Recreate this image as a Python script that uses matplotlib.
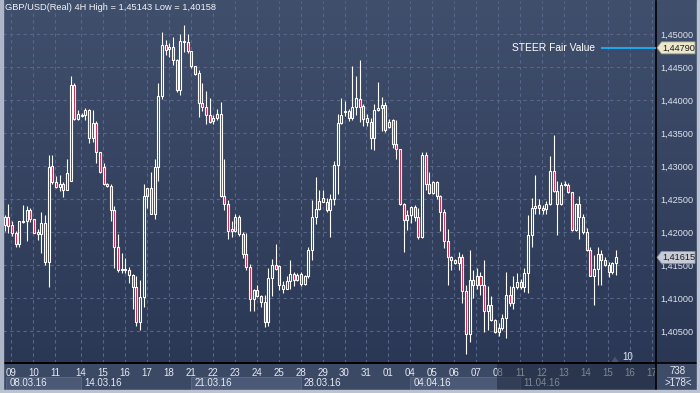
"""GBP/USD 4H candles with the STEER fair value level."""

import matplotlib

matplotlib.use("Agg")
import matplotlib.pyplot as plt
import matplotlib.transforms as mtransforms
import numpy as np
from matplotlib.patches import Polygon, Rectangle

OUT = "out.png"

# 4H candles, 08.03.16 .. 15.04.16
opens = [
    1.4211, 1.4223, 1.4210, 1.4199, 1.4182, 1.4215, 1.4216, 1.4234, 1.4220, 1.4197,
    1.4197, 1.4214, 1.4155, 1.4300, 1.4275, 1.4268, 1.4273, 1.4264, 1.4278, 1.4423,
    1.4371, 1.4375, 1.4377, 1.4385, 1.4342, 1.4365, 1.4321, 1.4298, 1.4273, 1.4270,
    1.4233, 1.4178, 1.4143, 1.4142, 1.4142, 1.4135, 1.4117, 1.4064, 1.4102, 1.4254,
    1.4267, 1.4228, 1.4298, 1.4406, 1.4484, 1.4477, 1.4480, 1.4460, 1.4415, 1.4488,
    1.4488, 1.4474, 1.4451, 1.4441, 1.4396, 1.4390, 1.4377, 1.4368, 1.4372, 1.4379,
    1.4254, 1.4242, 1.4204, 1.4202, 1.4223, 1.4197, 1.4167, 1.4147, 1.4098, 1.4112,
    1.4103, 1.4094, 1.4063, 1.4130, 1.4150, 1.4148, 1.4114, 1.4114, 1.4126, 1.4136,
    1.4128, 1.4136, 1.4121, 1.4133, 1.4173, 1.4222, 1.4235, 1.4251, 1.4246, 1.4234,
    1.4250, 1.4301, 1.4365, 1.4382, 1.4384, 1.4372, 1.4389, 1.4402, 1.4391, 1.4373,
    1.4367, 1.4342, 1.4385, 1.4388, 1.4393, 1.4359, 1.4369, 1.4333, 1.4326, 1.4242,
    1.4218, 1.4226, 1.4238, 1.4223, 1.4192, 1.4316, 1.4272, 1.4259, 1.4276, 1.4255,
    1.4230, 1.4187, 1.4157, 1.4157, 1.4153, 1.4162, 1.4110, 1.4045, 1.4127, 1.4119,
    1.4134, 1.4119, 1.4081, 1.4089, 1.4066, 1.4049, 1.4055, 1.4070, 1.4104, 1.4092,
    1.4117, 1.4124, 1.4117, 1.4138, 1.4195, 1.4236, 1.4241, 1.4236, 1.4235, 1.4243,
    1.4293, 1.4262, 1.4242, 1.4271, 1.4271, 1.4261, 1.4203, 1.4242, 1.4223, 1.4200,
    1.4172, 1.4134, 1.4144, 1.4167, 1.4157, 1.4150, 1.4139, 1.4153,
]
highs = [
    1.4225, 1.4243, 1.4217, 1.4201, 1.4217, 1.4241, 1.4239, 1.4236, 1.4220, 1.4205,
    1.4231, 1.4225, 1.4317, 1.4316, 1.4285, 1.4286, 1.4275, 1.4310, 1.4437, 1.4425,
    1.4385, 1.4380, 1.4388, 1.4386, 1.4385, 1.4368, 1.4321, 1.4305, 1.4274, 1.4272,
    1.4239, 1.4197, 1.4168, 1.4160, 1.4147, 1.4137, 1.4134, 1.4128, 1.4273, 1.4267,
    1.4291, 1.4311, 1.4425, 1.4503, 1.4491, 1.4487, 1.4496, 1.4462, 1.4500, 1.45143,
    1.4500, 1.4474, 1.4452, 1.4446, 1.4426, 1.4414, 1.4403, 1.4378, 1.4386, 1.4397,
    1.4311, 1.4249, 1.4217, 1.4227, 1.4225, 1.4200, 1.4198, 1.4152, 1.4114, 1.4120,
    1.4105, 1.4104, 1.4145, 1.4159, 1.4182, 1.4150, 1.4125, 1.4133, 1.4157, 1.4140,
    1.4138, 1.4139, 1.4135, 1.4178, 1.4249, 1.4284, 1.4263, 1.4263, 1.4251, 1.4257,
    1.4308, 1.4379, 1.4403, 1.4399, 1.4386, 1.4451, 1.4436, 1.4460, 1.4394, 1.4379,
    1.4372, 1.4394, 1.4427, 1.4405, 1.4397, 1.4371, 1.4371, 1.4369, 1.4326, 1.4244,
    1.4234, 1.4240, 1.4241, 1.4237, 1.4321, 1.4321, 1.4291, 1.4277, 1.4278, 1.4256,
    1.4235, 1.4205, 1.4163, 1.4159, 1.4170, 1.4166, 1.4119, 1.4172, 1.4143, 1.4145,
    1.4139, 1.4157, 1.4118, 1.4103, 1.4068, 1.4062, 1.4075, 1.4139, 1.4118, 1.4133,
    1.4138, 1.4129, 1.4145, 1.4225, 1.4252, 1.4287, 1.4250, 1.4241, 1.4247, 1.4315,
    1.4347, 1.4278, 1.4275, 1.4278, 1.4274, 1.4261, 1.4244, 1.4254, 1.4228, 1.4206,
    1.4177, 1.4165, 1.4177, 1.4173, 1.4162, 1.4155, 1.4155, 1.4172,
]
lows = [
    1.4202, 1.4198, 1.4194, 1.4177, 1.4177, 1.4214, 1.4186, 1.4215, 1.4198, 1.4188,
    1.4168, 1.4150, 1.4117, 1.4272, 1.4267, 1.4262, 1.4253, 1.4263, 1.4278, 1.4370,
    1.4369, 1.4374, 1.4370, 1.4335, 1.4336, 1.4305, 1.4289, 1.4271, 1.4268, 1.4216,
    1.4145, 1.4140, 1.4138, 1.4138, 1.4123, 1.4083, 1.4057, 1.4051, 1.4087, 1.4237,
    1.4228, 1.4219, 1.4278, 1.4402, 1.4468, 1.4465, 1.4453, 1.4412, 1.4408, 1.4473,
    1.4471, 1.4448, 1.4438, 1.4374, 1.4383, 1.4364, 1.4365, 1.4364, 1.4370, 1.4253,
    1.4234, 1.4189, 1.4192, 1.4200, 1.4194, 1.4161, 1.4142, 1.4081, 1.4080, 1.4102,
    1.4087, 1.4056, 1.4057, 1.4103, 1.4143, 1.4112, 1.4107, 1.4114, 1.4114, 1.4118,
    1.4125, 1.4118, 1.4119, 1.4130, 1.4157, 1.4212, 1.4234, 1.4245, 1.4230, 1.4193,
    1.4241, 1.4258, 1.4364, 1.4375, 1.4368, 1.4370, 1.4378, 1.4366, 1.4360, 1.4360,
    1.4326, 1.4324, 1.4383, 1.4353, 1.4352, 1.4357, 1.4328, 1.4310, 1.4241, 1.4169,
    1.4203, 1.4213, 1.4217, 1.4189, 1.4191, 1.4264, 1.4258, 1.4258, 1.4250, 1.4201,
    1.4175, 1.4119, 1.4142, 1.4151, 1.4142, 1.4093, 1.40158, 1.4034, 1.4100, 1.4113,
    1.4105, 1.4048, 1.4052, 1.4065, 1.4047, 1.4043, 1.4052, 1.4039, 1.4088, 1.4083,
    1.4114, 1.4113, 1.4109, 1.4107, 1.4177, 1.4228, 1.4227, 1.4228, 1.4227, 1.4241,
    1.4260, 1.4195, 1.4241, 1.4269, 1.4259, 1.4201, 1.4201, 1.4190, 1.4197, 1.4171,
    1.4133, 1.4089, 1.4120, 1.4120, 1.4148, 1.4132, 1.4137, 1.4135,
]
closes = [
    1.4223, 1.4209, 1.4198, 1.4182, 1.4216, 1.4217, 1.4233, 1.4220, 1.4199, 1.4200,
    1.4214, 1.4155, 1.4298, 1.4275, 1.4268, 1.4273, 1.4264, 1.4289, 1.4423, 1.4371,
    1.4379, 1.4377, 1.4385, 1.4342, 1.4365, 1.4321, 1.4291, 1.4273, 1.4270, 1.4233,
    1.4178, 1.4143, 1.4144, 1.4144, 1.4135, 1.4117, 1.4064, 1.4102, 1.4254, 1.4267,
    1.4228, 1.4298, 1.4406, 1.4484, 1.4475, 1.4480, 1.4460, 1.4415, 1.4489, 1.4490,
    1.4474, 1.4451, 1.4440, 1.4396, 1.4390, 1.4377, 1.4367, 1.4373, 1.4379, 1.4254,
    1.4242, 1.4202, 1.4201, 1.4223, 1.4197, 1.4167, 1.4147, 1.4098, 1.4112, 1.4103,
    1.4094, 1.4063, 1.4130, 1.4150, 1.4144, 1.4119, 1.4120, 1.4126, 1.4136, 1.4128,
    1.4135, 1.4121, 1.4133, 1.4173, 1.4222, 1.4235, 1.4247, 1.4246, 1.4234, 1.4250,
    1.4301, 1.4365, 1.4377, 1.4384, 1.4372, 1.4389, 1.4403, 1.4390, 1.4371, 1.4367,
    1.4342, 1.4385, 1.4388, 1.4392, 1.4354, 1.4367, 1.4333, 1.4326, 1.4242, 1.4218,
    1.4226, 1.4238, 1.4223, 1.4192, 1.4316, 1.4272, 1.4259, 1.4276, 1.4255, 1.4230,
    1.4187, 1.4162, 1.4162, 1.4153, 1.4162, 1.4110, 1.4045, 1.4127, 1.4119, 1.4134,
    1.4119, 1.4081, 1.4089, 1.4066, 1.4049, 1.4055, 1.4070, 1.4104, 1.4092, 1.4117,
    1.4124, 1.4117, 1.4138, 1.4195, 1.4236, 1.4240, 1.4236, 1.4234, 1.4243, 1.4293,
    1.4262, 1.4242, 1.4271, 1.4272, 1.4261, 1.4203, 1.4242, 1.4223, 1.4200, 1.4172,
    1.4134, 1.4144, 1.4167, 1.4157, 1.4150, 1.4139, 1.4153, 1.41615,
]

day_labels = ["09", "10", "11", "14", "15", "16", "17", "18", "21", "22", "23", "24", "25",
              "28", "29", "30", "31", "01", "04", "05", "06", "07", "08", "11", "12", "13",
              "14", "15", "16", "17"]
day_first_bar = [2, 8, 14, 21, 27, 33, 39, 45, 51, 57, 63, 69, 75,
                 81, 87, 93, 99, 105, 111, 117, 123, 129, 135, 141, 147, 153,
                 159, 165, 171, 177]
week_labels = ["08.03.16", "14.03.16", "21.03.16", "28.03.16", "04.04.16", "11.04.16"]
week_first_bar = [0.6, 21, 51, 81, 111, 141]
price_ticks = [1.405, 1.410, 1.415, 1.420, 1.425, 1.430, 1.435, 1.440, 1.445, 1.450]

steer_fair_value = 1.4479
period_high = 1.45143
period_low = 1.40158
bars_total = 738
bars_visible = 178
event_count = 10

W, H = 700, 393
RED = "#dc143c"
GRID = "#56678a"


def fmt(v):
    return f"{v:.5f}".replace(".", ",")


plt.rcParams["font.family"] = ["Liberation Sans", "DejaVu Sans"]

fig = plt.figure(figsize=(W / 100, H / 100), dpi=100)

# pixel-space background layer
bg = fig.add_axes([0, 0, 1, 1], zorder=0)
bg.set_xlim(0, W)
bg.set_ylim(H, 0)
bg.axis("off")
top_rgb = np.array([64, 79, 108]) / 255
bot_rgb = np.array([43, 56, 85]) / 255
t = np.linspace(0, 1, 256)[:, None, None]
grad = top_rgb * (1 - t) + bot_rgb * t
bg.imshow(grad, extent=[0, W, 363, 0], aspect="auto", zorder=0)
bg.add_patch(Rectangle((0, 363), W, 30, color="#3b4964", zorder=1))

# price axes
ax = fig.add_axes([3 / W, 30 / H, 653 / W, 362 / H], zorder=1)
ax.patch.set_alpha(0)
ax.set_xlim(-0.46, 177.95)
ax.set_ylim(1.40015, 1.455)

o = np.array(opens)
hi = np.array(highs)
lo = np.array(lows)
c = np.array(closes)
idx = np.arange(len(o))
body_top = np.maximum(o, c)
body_bot = np.minimum(o, c)
bull = c >= o

ax.vlines(idx, body_top, hi, colors="white", lw=0.8, zorder=3)
ax.vlines(idx, lo, body_bot, colors="white", lw=0.8, zorder=3)
ax.bar(idx, np.maximum(body_top - body_bot, 0.00012), bottom=body_bot, width=0.55,
       color=["none" if b else RED for b in bull], edgecolor="white", linewidth=0.8, zorder=4)

ax.set_yticks(price_ticks)
ax.yaxis.set_major_formatter(plt.FuncFormatter(lambda v, _: fmt(v)))
ax.yaxis.tick_right()
ax.tick_params(axis="y", length=0, pad=3, labelsize=6.6, labelcolor="#dde3ee")
ax.set_xticks([b - 0.15 for b in day_first_bar])
ax.set_xticklabels(day_labels)
ax.tick_params(axis="x", length=0, pad=3.5, labelsize=7, labelcolor="#e6ebf3")
ax.grid(True, color=GRID, linestyle=(0, (3, 3)), lw=0.8)
for side in ("left", "top"):
    ax.spines[side].set_visible(False)
for side in ("right", "bottom"):
    ax.spines[side].set_color("black")
    ax.spines[side].set_linewidth(1.2)

# STEER fair value level
ax.axhline(steer_fair_value, xmin=0.917, xmax=1.0, color="#1ea5ea", lw=1.5, zorder=5)
ax.text(0.906, steer_fair_value, "STEER Fair Value", transform=ax.get_yaxis_transform(),
        ha="right", va="center", fontsize=7.4, color="white")

# foreground pixel layer
fg = fig.add_axes([0, 0, 1, 1], zorder=2)
fg.set_xlim(0, W)
fg.set_ylim(H, 0)
fg.axis("off")
fg.patch.set_alpha(0)
mix = mtransforms.blended_transform_factory(ax.transData, fg.transData)


def price_px(p):
    d = ax.transData.transform((0, p))
    return fg.transData.inverted().transform(d)[1]


fg.text(5, 8, f"GBP/USD(Real) 4H High = {fmt(period_high)} Low = {fmt(period_low)}",
        ha="left", va="center", fontsize=6.7, color="#f2f4f8")

# week row
edges = list(week_first_bar) + [177.95]
for i, lab in enumerate(week_labels):
    x0 = edges[i] - 0.15
    if i % 2 == 0:
        fg.add_patch(Rectangle((x0, 377), edges[i + 1] - edges[i], 13, transform=mix,
                               facecolor="#4b5976", edgecolor="#5e6b88", lw=0.6, zorder=1))
    fg.text(x0 + 0.9, 383.5, lab, transform=mix, ha="left", va="center",
            fontsize=7, color="#e6ebf3", zorder=2)

# dimmed future region on the time axis
fg.add_patch(Rectangle((134.6, 363.5), 177.95 - 134.6, 26.5, transform=mix,
                       facecolor="#1a2438", alpha=0.5, lw=0, zorder=3))

# event marker
fg.add_patch(Polygon([(611.5, 362), (618.5, 362), (615, 356.5)], closed=True,
                     facecolor="#4a5570", edgecolor="none", zorder=3))
fg.text(622, 357.5, str(event_count), ha="left", va="center", fontsize=7,
        color="#e6ebf3", zorder=3)

# price labels on the scale
for val, face, edge in ((steer_fair_value, "#ece8cb", "#a09c84"),
                        (closes[-1], "#c8ccd6", "#8b92a3")):
    yc = price_px(val)
    fg.add_patch(Polygon([(657, yc), (661.5, yc - 6), (695, yc - 6), (695, yc + 6),
                          (661.5, yc + 6)], closed=True, facecolor=face, edgecolor=edge,
                         lw=0.6, zorder=4))
    fg.text(662.5, yc, fmt(val), ha="left", va="center", fontsize=6.6, color="#1b1b1b",
            zorder=5)

# bottom-right counter cell
fg.add_patch(Rectangle((656, 363), 41, 27, facecolor="#3e4c68", lw=0, zorder=4))
fg.text(678, 370.5, str(bars_total), ha="center", va="center", fontsize=7,
        color="#e6ebf3", zorder=5)
fg.plot([667, 689], [376.5, 376.5], color="#aab3c4", lw=0.5, zorder=5)
fg.text(678, 383.5, f">{bars_visible}<", ha="center", va="center", fontsize=7,
        color="#e6ebf3", zorder=5)

# frame lines
fg.plot([656, 656], [363, 390], color="black", lw=1.2, zorder=6)
fg.plot([3, 697], [363, 363], color="black", lw=1.2, zorder=6)
fg.add_patch(Rectangle((0, 0), 2.5, H, color="#aeb7c8", zorder=6))
fg.add_patch(Rectangle((697, 0), 3, H, color="#bcc3d0", zorder=6))
fg.add_patch(Rectangle((0, 390), W, 3, color="#bcc3d0", zorder=6))

fig.savefig(OUT, dpi=100)
